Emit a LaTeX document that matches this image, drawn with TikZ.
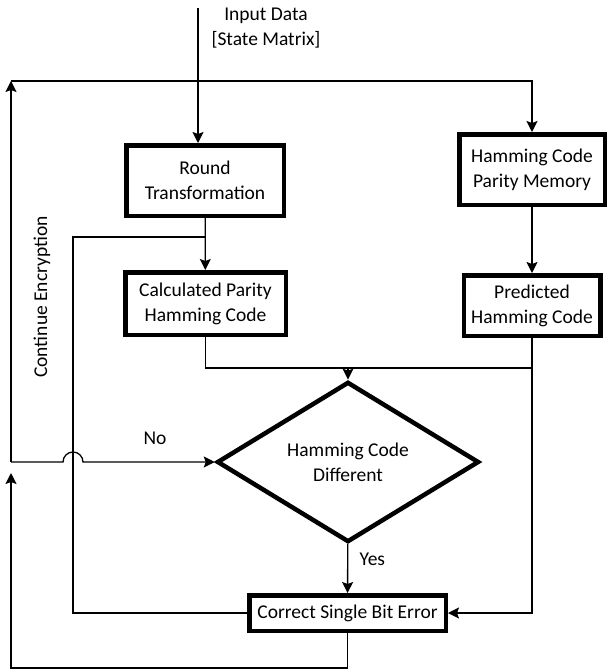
\documentclass[tikz,border=0pt]{standalone}
\usepackage{fontspec}
\setmainfont{Carlito}
\usetikzlibrary{positioning, shapes.geometric, arrows.meta, calc}

\begin{document}
\begin{tikzpicture}[
  x=1pt, y=-1pt,
  font=\fontsize{19.5}{25}\selectfont,
  box/.style={rectangle, draw, line width=4.5pt, fill=white, align=center, inner sep=0pt},
  dec/.style={diamond, draw, line width=4.5pt, fill=white, align=center, inner sep=0pt, minimum width=262pt, minimum height=103pt},
  wire/.style={line width=1.3pt},
  arr/.style={-{Stealth[length=11pt, width=11pt, inset=2pt]}, line width=1.3pt},
]
\useasboundingbox (0,0) rectangle (608,672);

\node[box, minimum width=157.5pt, minimum height=70.5pt] (rt) at (205,180.5) {Round\\Transformation};
\node[box, minimum width=145.5pt, minimum height=70.5pt] (hm) at (532,169.5) {Hamming Code\\Parity Memory};
\node[box, minimum width=160.5pt, minimum height=62.5pt] (cp) at (205.5,303.5) {Calculated Parity\\Hamming Code};
\node[box, minimum width=136.5pt, minimum height=60.5pt] (ph) at (532,305.5) {Predicted\\Hamming Code};
\node[dec] (hd) at (348,462) {Hamming Code\\Different};
\node[box, minimum width=196.5pt, minimum height=35.5pt] (cs) at (347.5,613) {Correct Single Bit Error};

\coordinate (in) at (198,8);
\coordinate (tl) at (11,81);
\coordinate (nl) at (11,462);
\coordinate (sp) at (205,237);
\coordinate (lk) at (73,237);
\coordinate (jn) at (348,368);
\coordinate (jr) at (532,368);
\coordinate (bc) at (11,668);
\coordinate (bt) at (11,473);

\node[align=center] (id) at (266,28) {Input Data\\{[State Matrix]}};
\node (no) at (155,438) {No};
\node[rotate=90] (ce) at (42,297) {Continue Encryption};

\draw[arr] (in) -- (in |- rt.north);
\draw[arr] (nl) -- (tl);
\draw[arr] (tl) -| (hm);
\draw[arr] (rt) -- (cp);
\draw[arr] (hm) -- (ph);
\draw[wire] (sp) -- (lk) |- (cs.west);
\draw[wire] (cp) |- (jr);
\draw[arr] (jn) -- (hd);
\draw[arr] (ph) |- (cs);
\draw[arr] (hd) -- node[pos=0.3, right=8pt] {Yes} (cs);
\draw[arr] (nl) -- ($(lk |- nl)+(-10,0)$) arc[start angle=180, end angle=360, radius=10] -- (hd.west);
\draw[arr] (cs) |- (bc) -- (bt);
\end{tikzpicture}
\end{document}
